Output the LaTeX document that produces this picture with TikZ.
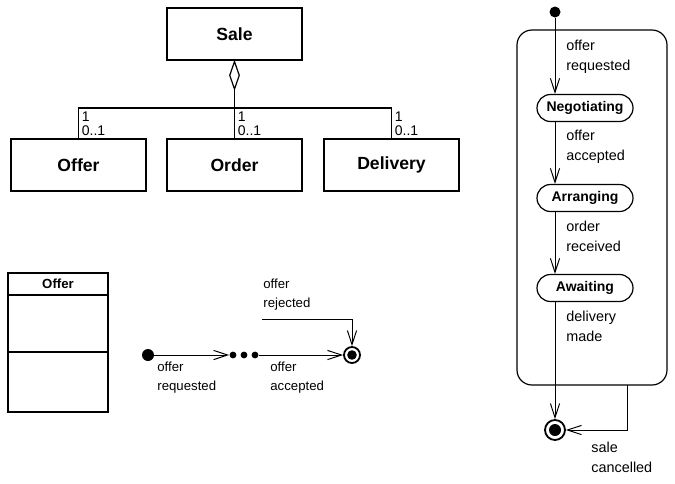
\documentclass[tikz,border=0pt]{standalone}
\usepackage{fontspec}
\setmainfont{Liberation Sans}
\usetikzlibrary{shapes.geometric, arrows.meta, positioning, calc}

\begin{document}
\begin{tikzpicture}[
    x=0.5pt, y=-0.5pt,
    class/.style={rectangle, draw, line width=0.7pt, minimum width=67.5pt, minimum height=26pt, font=\fontsize{8.8}{10}\selectfont\bfseries},
    compart/.style={rectangle, draw, line width=0.6pt, minimum width=50pt, inner sep=0pt, outer sep=0pt},
    state/.style={rectangle, draw, rounded corners=6.75pt, line width=0.6pt, minimum width=48pt, minimum height=13.5pt, inner sep=0pt, font=\fontsize{7}{8}\selectfont\bfseries},
    startdot/.style={circle, fill, inner sep=0pt, minimum size=#1},
    enddot/.style={circle, draw, line width=0.9pt, inner sep=0pt, minimum size=#1, path picture={\fill (path picture bounding box.center) circle (0.3*#1);}},
    smalldot/.style={circle, fill, inner sep=0pt, minimum size=3.4pt},
    mult/.style={inner sep=1pt, font=\fontsize{7}{8}\selectfont},
    trans/.style={align=left, inner sep=0pt, anchor=north west, font=\fontsize{7.2}{10}\selectfont},
    transl/.style={trans, font=\fontsize{6.6}{9.5}\selectfont},
    arrow/.style={-{Straight Barb[length=7pt, width=4.6pt]}, line width=0.5pt}
]
\useasboundingbox (0,0) rectangle (675,483);

% class diagram
\node[class] (sale) at (234.5,34) {Sale};
\node[class] (offer) at (78.5,165) {Offer};
\node[class] (order) at (234.5,165) {Order};
\node[class] (delivery) at (391.5,165) {Delivery};

\node[diamond, draw, line width=0.6pt, inner sep=0pt, minimum width=5pt, minimum height=14pt, anchor=north] (agg) at (sale.south) {};
\coordinate (joint) at (234.5,108);

\draw[line width=0.6pt] (agg.south) -- (order.north);
\draw[line width=0.6pt] (offer.north) |- (joint) -| (delivery.north);

\node[mult, above right=0pt and 0.5pt of offer.north] (offerlo) {0..1};
\node[mult, above=0pt of offerlo.north west, anchor=south west] (offerhi) {1};
\node[mult, above right=0pt and 0.5pt of order.north] (orderlo) {0..1};
\node[mult, above=0pt of orderlo.north west, anchor=south west] (orderhi) {1};
\node[mult, above right=0pt and 0.5pt of delivery.north] (deliverylo) {0..1};
\node[mult, above=0pt of deliverylo.north west, anchor=south west] (deliveryhi) {1};

% offer class and its states
\node[compart, minimum height=11pt, font=\fontsize{6.6}{8}\selectfont\bfseries] (offerhead) at (58,284) {Offer};
\node[compart, minimum height=28.5pt, below=0pt of offerhead] (offerattr) {};
\node[compart, minimum height=30pt, below=0pt of offerattr] (offerops) {};

\node[startdot=6pt] (start1) at (148,355) {};
\node[smalldot] (d1) at (233,355) {};
\node[smalldot] (d2) at (244,355) {};
\node[smalldot] (d3) at (255,355) {};
\node[enddot=8pt] (end1) at (352,355) {};
\coordinate (rej) at (262,319);

\draw[arrow] (start1) -- (d1);
\draw[arrow] (d3) -- (end1);
\draw[arrow] (rej) -| (end1);

\node[transl] (lreq1) at (157,362) {offer\\requested};
\node[transl] (lacc1) at (270,362) {offer\\accepted};
\node[transl] (lrej) at (263,279) {offer\\rejected};

% sale states
\node[startdot=5.5pt] (start2) at (555,12) {};
\node[rectangle, draw, rounded corners=7.5pt, line width=0.6pt, minimum width=75pt, minimum height=177.5pt] (superstate) at (592,207.5) {};
\node[state] (negot) at (585,108) {Negotiating};
\node[state] (arrang) at (585,198) {Arranging};
\node[state] (await) at (585,288) {Awaiting};
\node[enddot=10pt] (end2) at (555,430) {};
\coordinate (cancel) at (627,385);

\draw[arrow] (start2) -- (start2 |- negot.north);
\draw[arrow] (start2 |- negot.south) -- (start2 |- arrang.north);
\draw[arrow] (start2 |- arrang.south) -- (start2 |- await.north);
\draw[arrow] (start2 |- await.south) -- (end2);
\draw[arrow] (cancel) |- (end2);

\node[trans] (lreq2) at (566,40) {offer\\requested};
\node[trans] (lacc2) at (566,130) {offer\\accepted};
\node[trans] (lrec) at (566,221) {order\\received};
\node[trans] (lmade) at (566,311) {delivery\\made};
\node[trans] (lcanc) at (591,442) {sale\\cancelled};

\end{tikzpicture}
\end{document}
